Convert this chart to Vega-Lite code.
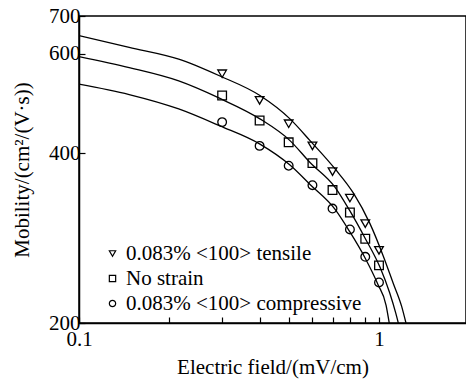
{
  "$schema": "https://vega.github.io/schema/vega-lite/v6.json",
  "width": 387,
  "height": 307,
  "autosize": {"type": "none"},
  "padding": {"left": 79, "top": 16, "right": 0, "bottom": 60},
  "background": "white",
  "config": {
    "view": {"stroke": "black", "strokeWidth": 1.5},
    "font": "Liberation Serif",
    "axis": {
      "grid": false,
      "domainColor": "black",
      "domainWidth": 1.5,
      "tickColor": "black",
      "tickWidth": 1.2,
      "labelColor": "black",
      "titleColor": "black",
      "labelFont": "Liberation Serif",
      "titleFont": "Liberation Serif",
      "labelFontSize": 21,
      "titleFontSize": 21,
      "titleFontWeight": "normal",
      "labelFlush": false,
      "labelOverlap": false
    }
  },
  "datasets": {
    "points": [
      {"field": 0.3, "mobility": 553, "series": "0.083% <100> tensile"},
      {"field": 0.4, "mobility": 496, "series": "0.083% <100> tensile"},
      {"field": 0.5, "mobility": 451, "series": "0.083% <100> tensile"},
      {"field": 0.6, "mobility": 412, "series": "0.083% <100> tensile"},
      {"field": 0.7, "mobility": 371, "series": "0.083% <100> tensile"},
      {"field": 0.8, "mobility": 333, "series": "0.083% <100> tensile"},
      {"field": 0.9, "mobility": 300, "series": "0.083% <100> tensile"},
      {"field": 1.0, "mobility": 269, "series": "0.083% <100> tensile"},
      {"field": 0.3, "mobility": 506, "series": "No strain"},
      {"field": 0.4, "mobility": 457, "series": "No strain"},
      {"field": 0.5, "mobility": 418, "series": "No strain"},
      {"field": 0.6, "mobility": 384, "series": "No strain"},
      {"field": 0.7, "mobility": 344, "series": "No strain"},
      {"field": 0.8, "mobility": 314, "series": "No strain"},
      {"field": 0.9, "mobility": 282, "series": "No strain"},
      {"field": 1.0, "mobility": 253, "series": "No strain"},
      {"field": 0.3, "mobility": 454, "series": "0.083% <100> compressive"},
      {"field": 0.4, "mobility": 412, "series": "0.083% <100> compressive"},
      {"field": 0.5, "mobility": 380, "series": "0.083% <100> compressive"},
      {"field": 0.6, "mobility": 351, "series": "0.083% <100> compressive"},
      {"field": 0.7, "mobility": 319, "series": "0.083% <100> compressive"},
      {"field": 0.8, "mobility": 293, "series": "0.083% <100> compressive"},
      {"field": 0.9, "mobility": 262, "series": "0.083% <100> compressive"},
      {"field": 1.0, "mobility": 236, "series": "0.083% <100> compressive"}
    ],
    "curves": [
      {"field": 0.1, "mobility": 646, "series": "t"},
      {"field": 0.147, "mobility": 616, "series": "t"},
      {"field": 0.215, "mobility": 587, "series": "t"},
      {"field": 0.295, "mobility": 548, "series": "t"},
      {"field": 0.401, "mobility": 506, "series": "t"},
      {"field": 0.505, "mobility": 460, "series": "t"},
      {"field": 0.589, "mobility": 421, "series": "t"},
      {"field": 0.714, "mobility": 375, "series": "t"},
      {"field": 0.821, "mobility": 340, "series": "t"},
      {"field": 0.933, "mobility": 300, "series": "t"},
      {"field": 1.033, "mobility": 263, "series": "t"},
      {"field": 1.116, "mobility": 235, "series": "t"},
      {"field": 1.19, "mobility": 214, "series": "t"},
      {"field": 1.23, "mobility": 200, "series": "t"},
      {"field": 0.1, "mobility": 593, "series": "n"},
      {"field": 0.147, "mobility": 567, "series": "n"},
      {"field": 0.215, "mobility": 537, "series": "n"},
      {"field": 0.295, "mobility": 500, "series": "n"},
      {"field": 0.401, "mobility": 460, "series": "n"},
      {"field": 0.505, "mobility": 421, "series": "n"},
      {"field": 0.589, "mobility": 385, "series": "n"},
      {"field": 0.714, "mobility": 348, "series": "n"},
      {"field": 0.8, "mobility": 316, "series": "n"},
      {"field": 0.898, "mobility": 283, "series": "n"},
      {"field": 1.008, "mobility": 251, "series": "n"},
      {"field": 1.086, "mobility": 226, "series": "n"},
      {"field": 1.138, "mobility": 208, "series": "n"},
      {"field": 1.16, "mobility": 200, "series": "n"},
      {"field": 0.1, "mobility": 530, "series": "c"},
      {"field": 0.147, "mobility": 508, "series": "c"},
      {"field": 0.215, "mobility": 479, "series": "c"},
      {"field": 0.295, "mobility": 447, "series": "c"},
      {"field": 0.401, "mobility": 415, "series": "c"},
      {"field": 0.505, "mobility": 381, "series": "c"},
      {"field": 0.589, "mobility": 352, "series": "c"},
      {"field": 0.714, "mobility": 318, "series": "c"},
      {"field": 0.8, "mobility": 290, "series": "c"},
      {"field": 0.898, "mobility": 261, "series": "c"},
      {"field": 0.992, "mobility": 234, "series": "c"},
      {"field": 1.056, "mobility": 215, "series": "c"},
      {"field": 1.082, "mobility": 200, "series": "c"}
    ]
  },
  "encoding": {
    "x": {
      "field": "field",
      "type": "quantitative",
      "scale": {"type": "log", "domain": [0.1, 1.95], "nice": false},
      "axis": {
        "title": "Electric field/(mV/cm)",
        "values": [0.1, 0.2, 0.3, 0.4, 0.5, 0.6, 0.7, 0.8, 0.9, 1],
        "labelExpr": "datum.value == 0.1 ? '0.1' : (datum.value == 1 ? '1' : '')",
        "tickSize": -6,
        "labelPadding": 11,
        "titleX": 193.5,
        "titleY": 50,
        "titleBaseline": "alphabetic"
      }
    },
    "y": {
      "field": "mobility",
      "type": "quantitative",
      "scale": {"type": "log", "domain": [200, 700], "nice": false},
      "axis": {
        "title": "Mobility/(cm²/(V·s))",
        "values": [200, 400, 600, 700],
        "format": "d",
        "tickSize": -6,
        "labelPadding": 5,
        "titleX": -51,
        "titleY": 153.5,
        "titleBaseline": "alphabetic"
      }
    }
  },
  "layer": [
    {
      "data": {"name": "curves"},
      "mark": {"type": "line", "color": "black", "strokeWidth": 1.3, "interpolate": "monotone", "clip": true},
      "encoding": {"detail": {"field": "series"}}
    },
    {
      "data": {"name": "points"},
      "mark": {"type": "point", "filled": false, "color": "black", "strokeWidth": 1.3, "size": 75, "opacity": 1, "clip": true},
      "encoding": {
        "shape": {
          "field": "series",
          "type": "nominal",
          "scale": {
            "domain": ["0.083% <100> tensile", "No strain", "0.083% <100> compressive"],
            "range": ["triangle-down", "square", "circle"]
          },
          "legend": {
            "title": null,
            "orient": "none",
            "legendX": 23,
            "legendY": 227,
            "padding": 0,
            "symbolSize": 40,
            "symbolStrokeColor": "black",
            "symbolStrokeWidth": 1.2,
            "symbolFillColor": "white",
            "labelFont": "Liberation Serif",
            "labelFontSize": 21,
            "labelColor": "black",
            "labelOffset": 3,
            "rowPadding": 3,
            "labelLimit": 400
          }
        }
      }
    }
  ]
}
